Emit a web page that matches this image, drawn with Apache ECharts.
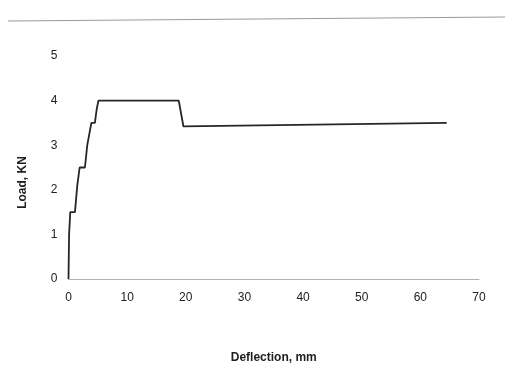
<!DOCTYPE html>
<html>
<head>
<meta charset="utf-8">
<script src="https://cdn.jsdelivr.net/npm/echarts@6/dist/echarts.min.js"></script>
<style>
  html, body { margin: 0; padding: 0; background: #fff; }
  #chart { width: 524px; height: 390px; }
</style>
</head>
<body>
<div id="chart"></div>
<script>
// Load–deflection curve of the tested specimen
const deflection = [0, 0.1, 0.3, 1.1, 1.5, 1.9, 2.8, 3.2, 3.9, 4.5, 4.8, 5.1, 18.8, 19.6, 64.5];
const load       = [0, 1.0, 1.5, 1.5, 2.1, 2.5, 2.5, 3.0, 3.5, 3.5, 3.8, 4.0, 4.0, 3.42, 3.5];

const xTicks = [0, 10, 20, 30, 40, 50, 60, 70];
const yTicks = [0, 1, 2, 3, 4, 5];

const xTitle = 'Deflection, mm';
const yTitle = 'Load, KN';

const points = deflection.map((d, i) => [d, load[i]]);

const labelFont = { fontFamily: 'Liberation Sans', fontSize: 12, color: '#222' };
const titleFont = { fontFamily: 'Liberation Sans', fontSize: 12, fontWeight: 'bold', color: '#1e1e1e' };

const chart = echarts.init(document.getElementById('chart'), null, { renderer: 'canvas' });
chart.setOption({
  backgroundColor: '#ffffff',
  animation: false,
  grid: { left: 68.5, right: 45, top: 56, bottom: 111 },
  xAxis: {
    type: 'value',
    min: xTicks[0],
    max: xTicks[xTicks.length - 1],
    interval: 10,
    name: xTitle,
    nameLocation: 'middle',
    nameGap: 73,
    nameTextStyle: titleFont,
    axisLine: { show: true, lineStyle: { color: '#b0b0b0', width: 1 } },
    axisTick: { show: false },
    splitLine: { show: false },
    axisLabel: Object.assign({ margin: 13 }, labelFont)
  },
  yAxis: {
    type: 'value',
    min: yTicks[0],
    max: yTicks[yTicks.length - 1],
    interval: 1,
    name: yTitle,
    nameLocation: 'middle',
    nameGap: 40,
    nameTextStyle: Object.assign({ padding: [0, 0, 0, -30] }, titleFont),
    axisLine: { show: false },
    axisTick: { show: false },
    splitLine: { show: false },
    axisLabel: Object.assign({ margin: 11 }, labelFont)
  },
  series: [{
    type: 'line',
    data: points,
    showSymbol: false,
    lineStyle: { color: '#262626', width: 1.8 },
    z: 3
  }],
  graphic: [
    { type: 'line', shape: { x1: 8, y1: 21, x2: 505, y2: 17 }, style: { stroke: '#9a9a9a', lineWidth: 1 } }
  ]
});
</script>
</body>
</html>
